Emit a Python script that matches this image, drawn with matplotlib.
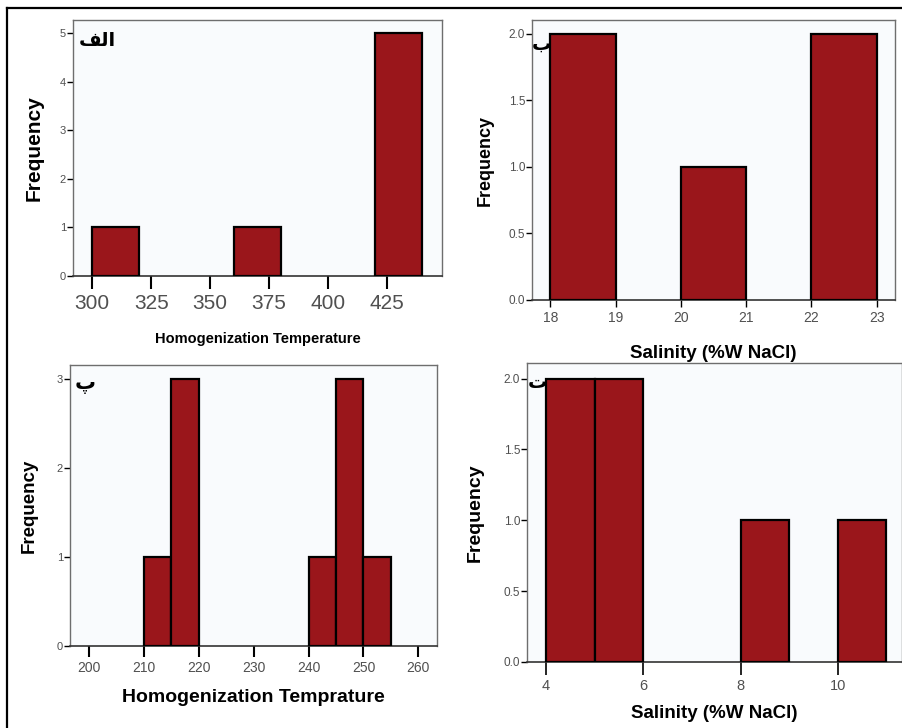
import matplotlib
matplotlib.use('Agg')
import matplotlib.pyplot as plt
from matplotlib.lines import Line2D

# histogram data: left bin edges, bin width and counts
temp1_left = [300, 360, 420]
temp1_width = 20
temp1_counts = [1, 1, 5]

sal1_left = [18, 20, 22]
sal1_width = 1
sal1_counts = [2, 1, 2]

temp2_left = [210, 215, 240, 245, 250]
temp2_width = 5
temp2_counts = [1, 3, 1, 3, 1]

sal2_left = [4, 5, 8, 10]
sal2_width = 1
sal2_counts = [2, 2, 1, 1]

W, H = 903, 728
BAR = '#9a161b'
plt.rcParams['font.family'] = ['Liberation Sans', 'DejaVu Sans']

fig = plt.figure(figsize=(W / 100, H / 100), dpi=100)
fig.patch.set_facecolor('white')


def make_axes(l, r, t, b):
    ax = fig.add_axes([l / W, 1 - b / H, (r - l) / W, (b - t) / H])
    ax.set_facecolor('#f9fbfd')
    for s in ['left', 'top', 'right']:
        ax.spines[s].set_color('#6e6e6e')
        ax.spines[s].set_linewidth(1.0)
    ax.spines['bottom'].set_color('#333333')
    ax.spines['bottom'].set_linewidth(1.2)
    return ax


def draw_bars(ax, left, width, counts):
    ax.bar(left, counts, width=width, align='edge', color=BAR,
           edgecolor='black', linewidth=1.6, zorder=3)


# panel 1 (top left)
ax1 = make_axes(73, 442, 20, 276)
draw_bars(ax1, temp1_left, temp1_width, temp1_counts)
ax1.set_xlim(291.8, 448.5)
ax1.set_ylim(0, 5.27)
ax1.set_xticks([300, 325, 350, 375, 400, 425])
ax1.set_yticks([0, 1, 2, 3, 4, 5])
ax1.tick_params(axis='x', length=9, width=1.5, labelsize=15, labelcolor='#505050', pad=4)
ax1.tick_params(axis='y', length=4, width=1, labelsize=8, labelcolor='#505050', pad=1)
ax1.set_xlabel('Homogenization Temperature', fontsize=10.5, fontweight='bold', labelpad=14)
ax1.set_ylabel('Frequency', fontsize=15, fontweight='bold', labelpad=12)
ax1.text(79 / W, 1 - 40 / H, '\uFED2\uFEDF\uFE8D', transform=fig.transFigure,
         family=['DejaVu Sans'], fontsize=14, fontweight='bold', va='center', ha='left')

# panel 2 (top right)
ax2 = make_axes(532, 895, 20, 300)
draw_bars(ax2, sal1_left, sal1_width, sal1_counts)
ax2.set_xlim(17.72, 23.28)
ax2.set_ylim(0, 2.105)
ax2.set_xticks([18, 19, 20, 21, 22, 23])
ax2.set_yticks([0.0, 0.5, 1.0, 1.5, 2.0])
ax2.set_yticklabels(['0.0', '0.5', '1.0', '1.5', '2.0'])
ax2.tick_params(axis='x', length=5, width=1, labelsize=10, labelcolor='#505050', pad=3)
ax2.tick_params(axis='y', length=4, width=1, labelsize=8.5, labelcolor='#505050', pad=1)
ax2.set_xlabel('Salinity (%W NaCl)', fontsize=13.5, fontweight='bold', labelpad=14)
ax2.set_ylabel('Frequency', fontsize=13, fontweight='bold', labelpad=11)
ax2.text(532 / W, 1 - 44 / H, '\u0628', transform=fig.transFigure,
         family=['DejaVu Sans'], fontsize=14, fontweight='bold', va='center', ha='left')

# panel 3 (bottom left)
ax3 = make_axes(70, 437, 365, 646)
draw_bars(ax3, temp2_left, temp2_width, temp2_counts)
ax3.set_xlim(196.5, 263.4)
ax3.set_ylim(0, 3.16)
ax3.set_xticks([200, 210, 220, 230, 240, 250, 260])
ax3.set_yticks([0, 1, 2, 3])
ax3.tick_params(axis='x', length=8, width=1.5, labelsize=10, labelcolor='#505050', pad=3)
ax3.tick_params(axis='y', length=4, width=1, labelsize=8, labelcolor='#505050', pad=1)
ax3.set_xlabel('Homogenization Temprature', fontsize=14, fontweight='bold', labelpad=10)
ax3.set_ylabel('Frequency', fontsize=13.5, fontweight='bold', labelpad=14)
ax3.text(75 / W, 1 - 384 / H, '\u067E', transform=fig.transFigure,
         family=['DejaVu Sans'], fontsize=15, fontweight='bold', va='center', ha='left')

# panel 4 (bottom right)
ax4 = make_axes(527, 902, 363, 662)
draw_bars(ax4, sal2_left, sal2_width, sal2_counts)
ax4.set_xlim(3.61, 11.32)
ax4.set_ylim(0, 2.11)
ax4.set_xticks([4, 6, 8, 10])
ax4.set_yticks([0.0, 0.5, 1.0, 1.5, 2.0])
ax4.set_yticklabels(['0.0', '0.5', '1.0', '1.5', '2.0'])
ax4.tick_params(axis='x', length=9, width=1.2, labelsize=10.5, labelcolor='#505050', pad=3)
ax4.tick_params(axis='y', length=4, width=1, labelsize=8.5, labelcolor='#505050', pad=1)
ax4.set_xlabel('Salinity (%W NaCl)', fontsize=13.5, fontweight='bold', labelpad=9)
ax4.set_ylabel('Frequency', fontsize=14, fontweight='bold', labelpad=14)
ax4.text(528 / W, 1 - 382 / H, '\u062A', transform=fig.transFigure,
         family=['DejaVu Sans'], fontsize=14, fontweight='bold', va='center', ha='left')

# outer frame (cut at right and bottom)
fig.add_artist(Line2D([7 / W, 1], [1 - 8 / H, 1 - 8 / H], color='black', lw=1.6,
                      transform=fig.transFigure))
fig.add_artist(Line2D([7 / W, 7 / W], [1 - 8 / H, 0], color='black', lw=1.6,
                      transform=fig.transFigure))

fig.savefig('out.png', dpi=100)
